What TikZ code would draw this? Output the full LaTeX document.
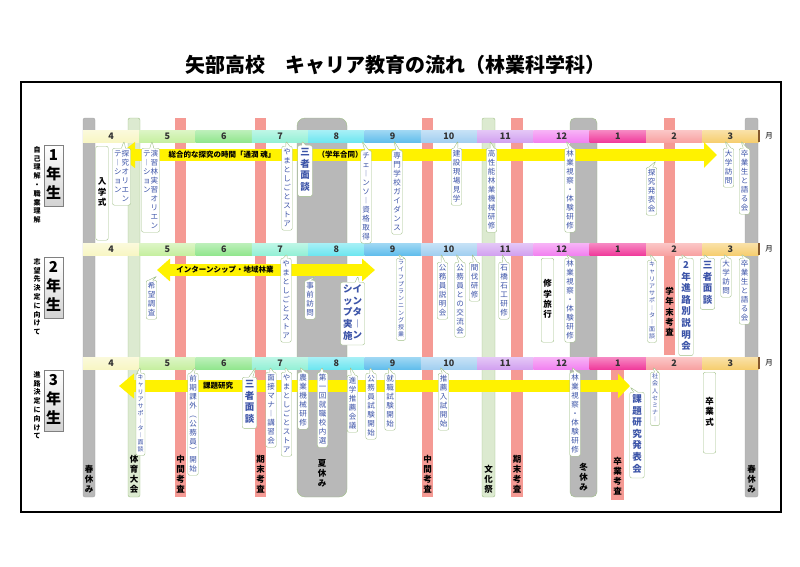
\documentclass[tikz,border=0pt]{standalone}
\usepackage{fontspec}
\setmainfont{Noto Sans CJK JP}
\usetikzlibrary{shapes.callouts,arrows.meta}

\definecolor{mA}{HTML}{F8F6C4}
\definecolor{mB}{HTML}{C6EFA0}
\definecolor{mC}{HTML}{92E68E}
\definecolor{mD}{HTML}{94F0D6}
\definecolor{mE}{HTML}{6EE6F0}
\definecolor{mF}{HTML}{62BEEC}
\definecolor{mG}{HTML}{A2CFF0}
\definecolor{mH}{HTML}{D2A2F0}
\definecolor{mI}{HTML}{F282F0}
\definecolor{mJ}{HTML}{F03C9C}
\definecolor{mK}{HTML}{F8A2A2}
\definecolor{mL}{HTML}{F6CE70}
\definecolor{redband}{HTML}{F59A94}
\definecolor{grayband}{HTML}{B8B8B8}
\definecolor{greenband}{HTML}{DCEAD0}
\definecolor{noteline}{HTML}{9FBF86}
\definecolor{noteblue}{HTML}{3C54A8}

% vertical (tate) text: one character per line
\makeatletter
\newcommand\vtext[1]{\def\vt@buf{}\def\vt@sep{}%
  \@tfor\vt@c:=#1\do{\edef\vt@buf{\unexpanded\expandafter{\vt@buf}\unexpanded\expandafter{\vt@sep}\unexpanded\expandafter{\vt@c}}\def\vt@sep{\\}}%
  \begin{tabular}[t]{@{}c@{}}\vt@buf\end{tabular}}
\makeatother

\tikzset{
  note/.style={rectangle callout, draw=noteline, fill=white, rounded corners=2pt,
    inner sep=1.5pt, anchor=north, text=noteblue, callout pointer width=4pt,
    font=\fontsize{7.5}{9}\selectfont},
  bignote/.style={font=\fontsize{9.5}{11.5}\selectfont\bfseries, inner sep=2.5pt},
  smallnote/.style={font=\fontsize{6}{7.2}\selectfont},
  plainbox/.style={draw=noteline, fill=white, rounded corners=2pt, inner sep=2pt,
    anchor=north, font=\fontsize{8.5}{10}\selectfont\bfseries},
  bandlabel/.style={anchor=south, inner sep=0pt, font=\fontsize{8.5}{10}\selectfont\bfseries},
  yearbox/.style={draw=gray, top color=white, bottom color=gray!35, inner sep=2pt,
    anchor=north, font=\fontsize{15}{19}\selectfont\bfseries},
  sidetext/.style={anchor=north, inner sep=0pt, font=\fontsize{7}{8.8}\selectfont\bfseries},
  yarrow/.style={line width=12pt, yellow},
  arrowlabel/.style={fill=yellow, inner sep=1pt, font=\fontsize{7.5}{9}\selectfont\bfseries}
}

\newcommand\evt[5][]{\node[note,callout absolute pointer={(#4)},#1] (#2) at (#3) {#5};}

\begin{document}
\begin{tikzpicture}[x=1pt,y=-1pt]
\useasboundingbox (0,0) rectangle (800,566);

\node[font=\fontsize{20}{24}\selectfont\bfseries] (title) at (395,65)
  {矢部高校\quad キャリア教育の流れ（林業科学科）};
\draw[line width=1.5pt] (21,82) rectangle (781,512);

% bands behind the rows
\foreach \a/\b in {175/186,255/266,422/433,511/523}
  \fill[redband] (\a,118) rectangle (\b,497);
\fill[redband] (664,118) rectangle (675,355);
\fill[redband] (611,368) rectangle (624,500);
\foreach \a/\b in {128/140,482/495}
  \draw[noteline,fill=greenband,rounded corners=2pt] (\a,118) rectangle (\b,497);
\foreach \a/\b in {83/95,745/758}
  \draw[gray!70,fill=grayband,rounded corners=2pt] (\a,118) rectangle (\b,497);
\draw[noteline,fill=grayband,rounded corners=8pt] (297,118) rectangle (347,497);
\draw[noteline,fill=grayband,rounded corners=5pt] (570,118) rectangle (597,497);

% month bars
\foreach \y in {130,243,357} {
  \foreach \m/\c [count=\i from 0] in {4/mA,5/mB,6/mC,7/mD,8/mE,9/mF,10/mG,11/mH,12/mI,1/mJ,2/mK,3/mL}
    \shade[top color=white!40!\c, bottom color=\c] (83+56.3*\i,\y) rectangle ++(56.3,12)
      node[midway, font=\fontsize{9}{10}\selectfont\bfseries, text=black!80] {\m};
  \draw[brown!70!black, line width=1.5pt] (759,\y) -- ++(0,12);
  \node[font=\fontsize{7.5}{9}\selectfont] at (769,\y+6) {月};
}

% yellow arrows
\draw[yarrow, {Triangle[length=17pt,width=25pt]}-{Triangle[length=13pt,width=25pt]}] (118,155) -- (717,155);
\draw[yarrow, {Triangle[length=13pt,width=22pt]}-{Triangle[length=13pt,width=22pt]}] (157,270) -- (375,270);
\draw[yarrow, {Triangle[length=15pt,width=24pt]}-{Triangle[length=12pt,width=24pt]}] (119,386) -- (630,386);
\node[arrowlabel] (a1) at (222,155) {総合的な探究の時間「通潤 魂」};
\node[arrowlabel] (a2) at (340,155) {（学年合同）};
\node[arrowlabel] (a3) at (225,270) {インターンシップ・地域林業};
\node[arrowlabel] (a4) at (218,386) {課題研究};

% left side
\node[yearbox] (y1) at (53.5,145) {\vtext{1年生}};
\node[yearbox] (y2) at (53.5,257) {\vtext{2年生}};
\node[yearbox] (y3) at (53.5,370) {\vtext{3年生}};
\node[sidetext] (s1) at (37,146) {\vtext{自己理解・職業理解}};
\node[sidetext] (s2) at (37,258) {\vtext{志望先決定に向けて}};
\node[sidetext] (s3) at (37,371) {\vtext{進路決定に向けて}};

% 1st year
\node[plainbox, minimum height=94pt] (r1a) at (102,146) {\vtext{入学式}};
\evt{r1b}{121.5,148}{124,141}{\vtext{テ︱ション}\vtext{探究オリエン}}
\evt{r1c}{150.5,148}{152,141}{\vtext{テ︱ション}\vtext{演習林実習オリエン}}
\evt{r1d}{287,146}{286,141}{\vtext{やまとしごとストア}}
\evt[bignote]{r1e}{305,145}{302,141}{\vtext{三者面談}}
\evt{r1f}{366,150}{362,141}{\vtext{チェ︱ンソ︱資格取得}}
\evt{r1g}{397,150}{394,141}{\vtext{専門学校ガイダンス}}
\evt{r1h}{456.5,148}{458,141}{\vtext{建設現場見学}}
\evt{r1i}{491.5,148}{490,141}{\vtext{高性能林業機械研修}}
\evt{r1j}{570,148}{566,141}{\vtext{林業視察・体験研修}}
\evt{r1k}{651.5,167}{656,161}{\vtext{探究発表会}}
\evt{r1l}{728.5,148}{725,141}{\vtext{大学訪問}}
\evt{r1m}{744.5,148}{741,141}{\vtext{卒業生と語る会}}

% 2nd year
\evt{r2a}{151.5,280}{157,276}{\vtext{希望調査}}
\evt{r2b}{286,258}{287,254}{\vtext{やまとしごとストア}}
\evt{r2c}{310,280}{316,276}{\vtext{事前訪問}}
\evt[bignote]{r2d}{352.5,282}{358,276}{\vtext{シップ実施}\vtext{インタ︱ン}}
\evt[smallnote]{r2e}{401,258}{398,254}{\vtext{ライフプランニング授業}}
\evt{r2f}{442.5,262}{441,254}{\vtext{公務員説明会}}
\evt{r2g}{460,262}{456,254}{\vtext{公務員との交流会}}
\evt{r2h}{474.5,262}{472,254}{\vtext{間伐研修}}
\evt{r2i}{504,262}{502,254}{\vtext{石橋石工研修}}
\node[plainbox, minimum height=84pt] (r2j) at (547.5,258) {\vtext{修学旅行}};
\evt{r2k}{570,258}{566,254}{\vtext{林業視察・体験研修}}
\evt[smallnote]{r2l}{652,260}{650,254}{\vtext{キャリアサポ︱タ︱面談}}
\node[bandlabel, anchor=north] (b2) at (669.5,287) {\vtext{学年末考査}};
\evt[bignote]{r2m}{686,258}{681,254}{\vtext{2年進路別説明会}}
\evt[bignote]{r2n}{707.5,258}{704,254}{\vtext{三者面談}}
\evt{r2o}{726,258}{724,254}{\vtext{大学訪問}}
\evt{r2p}{744.5,258}{741,254}{\vtext{卒業生と語る会}}

% 3rd year
\evt[smallnote]{r3a}{140.5,373}{140,367}{\vtext{キャリアサポ︱タ︱面談}}
\evt{r3b}{193,373}{196,367}{\vtext{前期課外︵公務員︶開始}}
\evt[bignote]{r3c}{249.5,377}{256,367}{\vtext{三者面談}}
\evt{r3d}{271,372}{270,367}{\vtext{面接マナ︱講習会}}
\evt{r3e}{286.5,372}{285,367}{\vtext{やまとしごとストア}}
\evt{r3f}{303,372}{300,367}{\vtext{農業機械研修}}
\evt{r3g}{322.5,372}{322,367}{\vtext{第一回就職校内選}}
\evt{r3h}{352.5,375}{350,367}{\vtext{進学推薦会議}}
\evt{r3i}{371,373}{370,367}{\vtext{公務員試験開始}}
\evt{r3j}{390,373}{388,367}{\vtext{就職試験開始}}
\evt{r3k}{443.5,373}{440,367}{\vtext{推薦入試開始}}
\evt{r3l}{575,372}{572,367}{\vtext{林業視察・体験研修}}
\evt[bignote]{r3m}{637,392}{630,387}{\vtext{課題研究発表会}}
\evt[smallnote]{r3n}{655,372}{653,367}{\vtext{社会人セミナ︱}}
\node[plainbox, minimum height=81pt] (r3o) at (709.5,372) {\vtext{卒業式}};

% band labels
\node[bandlabel] (l1) at (89,496) {\vtext{春休み}};
\node[bandlabel] (l2) at (134,496) {\vtext{体育大会}};
\node[bandlabel] (l3) at (180.5,496) {\vtext{中間考査}};
\node[bandlabel] (l4) at (260.5,496) {\vtext{期末考査}};
\node[bandlabel] (l5) at (322,490) {\vtext{夏休み}};
\node[bandlabel] (l6) at (427.5,496) {\vtext{中間考査}};
\node[bandlabel] (l7) at (488.5,496) {\vtext{文化祭}};
\node[bandlabel] (l8) at (517,496) {\vtext{期末考査}};
\node[bandlabel] (l9) at (583.5,494) {\vtext{冬休み}};
\node[bandlabel] (l10) at (617.5,498) {\vtext{卒業考査}};
\node[bandlabel] (l11) at (751.5,496) {\vtext{春休み}};
\end{tikzpicture}
\end{document}
